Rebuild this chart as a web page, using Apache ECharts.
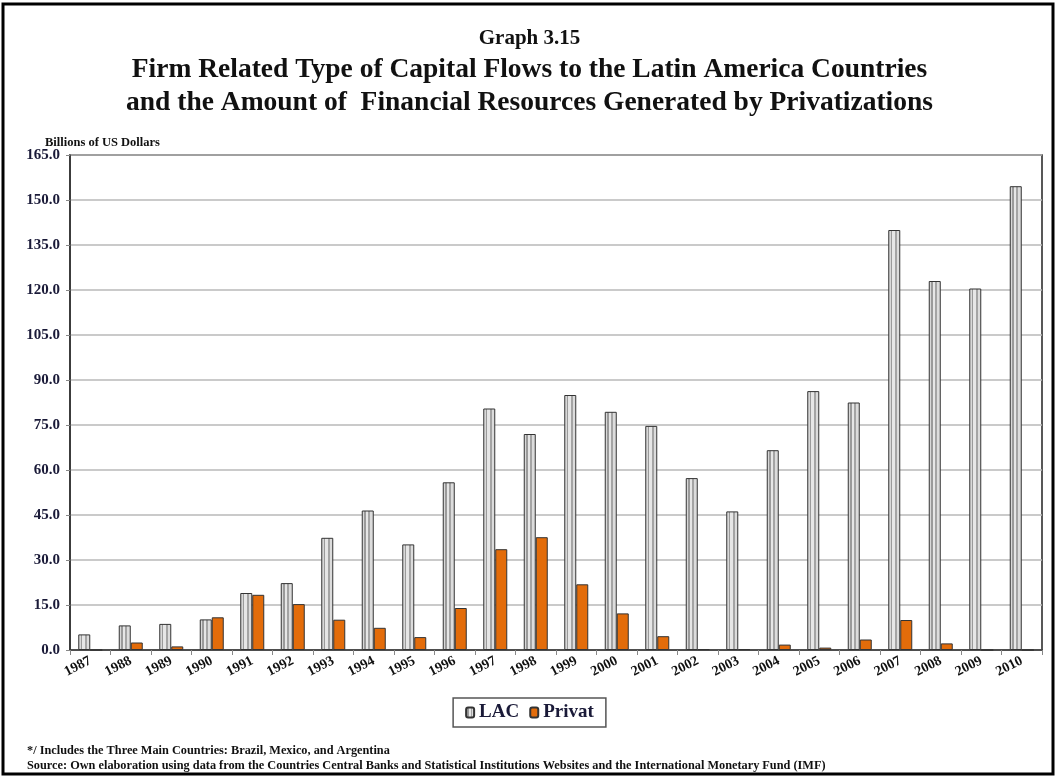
<!DOCTYPE html>
<html>
<head>
<meta charset="utf-8">
<script src="https://cdn.jsdelivr.net/npm/echarts@6/dist/echarts.min.js"></script>
<style>
  html, body { margin: 0; padding: 0; background: #fff; }
  #chart { width: 1059px; height: 777px; }
</style>
</head>
<body>
<div id="chart"></div>
<script>
  // datos
  var years = ['1987','1988','1989','1990','1991','1992','1993','1994','1995','1996','1997','1998',
               '1999','2000','2001','2002','2003','2004','2005','2006','2007','2008','2009','2010'];
  var lac = [5.2, 8.2, 8.7, 10.2, 19.0, 22.3, 37.4, 46.5, 35.2, 55.9, 80.5, 72.0,
             85.0, 79.4, 74.7, 57.3, 46.2, 66.6, 86.3, 82.5, 140.0, 123.0, 120.5, 154.6];
  var privat = [0, 2.5, 1.2, 10.9, 18.4, 15.3, 10.1, 7.4, 4.3, 14.0, 33.6, 37.6,
                21.9, 12.2, 4.6, 0.3, 0.3, 1.8, 0.8, 3.5, 10.0, 2.2, 0, 0];

  var serif = '"Liberation Serif", "DejaVu Serif", serif';
  var navy = '#1a1a38';

  // barras grises con rayas verticales
  var stripes = new echarts.graphic.LinearGradient(0, 0, 1, 0, [
    {offset: 0, color: '#d8d8d8'}, {offset: 0.2, color: '#d8d8d8'},
    {offset: 0.2, color: '#9a9a9a'}, {offset: 0.35, color: '#9a9a9a'},
    {offset: 0.35, color: '#e6e6e6'}, {offset: 0.55, color: '#e6e6e6'},
    {offset: 0.55, color: '#a4a4a4'}, {offset: 0.7, color: '#a4a4a4'},
    {offset: 0.7, color: '#dcdcdc'}, {offset: 1, color: '#dcdcdc'}
  ]);

  var option = {
    backgroundColor: '#fff',
    animation: false,
    title: [
      {
        text: 'Graph 3.15',
        left: 'center', top: 23,
        textStyle: {fontFamily: serif, fontWeight: 'bold', fontSize: 21, color: '#111'}
      },
      {
        text: 'Firm Related Type of Capital Flows to the Latin America Countries\nand the Amount of  Financial Resources Generated by Privatizations',
        left: 'center', top: 48,
        textStyle: {fontFamily: serif, fontWeight: 'bold', fontSize: 27.5, lineHeight: 33, color: '#111'}
      },
      {
        text: 'Billions of US Dollars',
        left: 40, top: 131,
        textStyle: {fontFamily: serif, fontWeight: 'bold', fontSize: 12.5, color: '#111'}
      },
      {
        text: '*/ Includes the Three Main Countries: Brazil, Mexico, and Argentina\nSource: Own elaboration using data from the Countries Central Banks and Statistical Institutions Websites and the International Monetary Fund (IMF)',
        left: 22, top: 738,
        textStyle: {fontFamily: serif, fontWeight: 'bold', fontSize: 12.3, lineHeight: 15, color: '#111'}
      }
    ],
    graphic: [
      {
        type: 'rect', silent: true,
        shape: {x: 3, y: 4, width: 1050, height: 770},
        style: {fill: 'none', stroke: '#000', lineWidth: 3}
      }
    ],
    legend: {
      data: ['LAC', 'Privat'],
      left: 'center', top: 698,
      padding: [5, 12],
      itemWidth: 8, itemHeight: 10, itemGap: 10,
      borderColor: '#555', borderWidth: 1.5,
      textStyle: {fontFamily: serif, fontWeight: 'bold', fontSize: 19, color: navy}
    },
    grid: {
      left: 70, right: 17, top: 155, bottom: 127,
      show: true, borderColor: '#222', borderWidth: 1.5
    },
    xAxis: {
      type: 'category',
      data: years,
      axisLine: {lineStyle: {color: '#333', width: 1.5}},
      axisTick: {show: true, length: 5, lineStyle: {color: '#888'}},
      axisLabel: {
        interval: 0, rotate: 27, margin: 10,
        fontFamily: serif, fontWeight: 'bold', fontSize: 14, color: '#111'
      }
    },
    yAxis: {
      type: 'value',
      min: 0, max: 165, interval: 15,
      axisLine: {show: true, lineStyle: {color: '#333', width: 1.5}},
      axisTick: {show: true, length: 4, lineStyle: {color: '#888'}},
      splitLine: {lineStyle: {color: '#b8b8b8', width: 1.5}},
      axisLabel: {
        margin: 10,
        formatter: function (v) { return v.toFixed(1); },
        fontFamily: serif, fontWeight: 'bold', fontSize: 15, color: navy
      }
    },
    series: [
      {
        name: 'LAC', type: 'bar', data: lac,
        barWidth: 12, barGap: '0%',
        itemStyle: {color: stripes, borderColor: '#333', borderWidth: 1}
      },
      {
        name: 'Privat', type: 'bar', data: privat,
        barWidth: 12,
        itemStyle: {color: '#e36c0a', borderColor: '#333', borderWidth: 1}
      }
    ]
  };

  var myChart = echarts.init(document.getElementById('chart'));
  myChart.setOption(option);
</script>
</body>
</html>
